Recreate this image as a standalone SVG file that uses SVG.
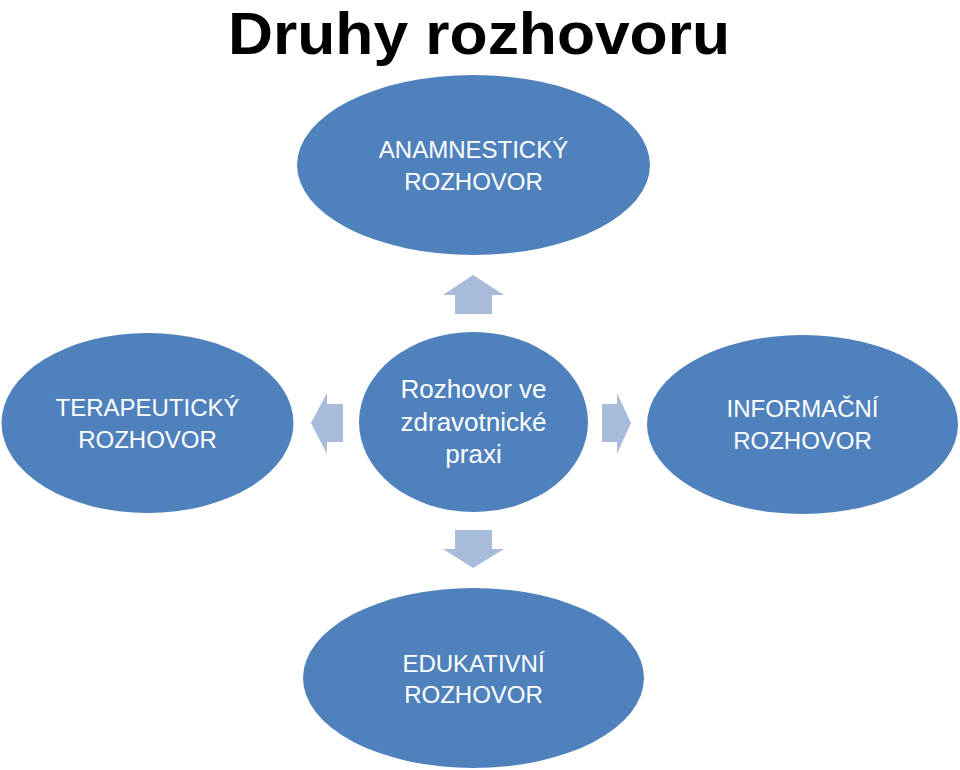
<svg xmlns="http://www.w3.org/2000/svg" width="960" height="770" viewBox="0 0 960 770">
<style>
.node{fill:#4F81BD;}
.lbl{fill:#FFFFFF;font-family:"Liberation Sans",Arial,sans-serif;font-size:24px;text-anchor:middle;}
.c{font-size:26px;}
.arr{fill:#A9BBDA;}
.title{fill:#000000;font-family:"Liberation Sans",Arial,sans-serif;font-size:59px;font-weight:bold;text-anchor:middle;}
</style>
<rect width="960" height="770" fill="#FFFFFF"/>
<text class="title" x="479" y="54" textLength="502" lengthAdjust="spacingAndGlyphs">Druhy rozhovoru</text>
<g id="connectors">
<polygon class="arr" points="473,275 504,295 492,295 492,314 455,314 455,295 443,295"/>
<polygon class="arr" points="473,568 504,549 492,549 492,530 455,530 455,549 443,549"/>
<polygon class="arr" points="311,423 327,393 327,404 343,404 343,442 327,442 327,454"/>
<polygon class="arr" points="631,423 617,393 617,404 602,404 602,442 617,442 617,454"/>
</g>
<g id="center">
<ellipse class="node" cx="473.5" cy="422" rx="114.5" ry="90"/>
<text class="lbl c" x="473.5" y="398">Rozhovor ve</text>
<text class="lbl c" x="473.5" y="431">zdravotnické</text>
<text class="lbl c" x="473.5" y="463">praxi</text>
</g>
<g id="anamnesticky">
<ellipse class="node" cx="473.5" cy="165" rx="176.5" ry="90"/>
<text class="lbl" x="473.5" y="158">ANAMNESTICKÝ</text>
<text class="lbl" x="473.5" y="190">ROZHOVOR</text>
</g>
<g id="terapeuticky">
<ellipse class="node" cx="147.5" cy="423" rx="146" ry="90"/>
<text class="lbl" x="147.5" y="416">TERAPEUTICKÝ</text>
<text class="lbl" x="147.5" y="448">ROZHOVOR</text>
</g>
<g id="informacni">
<ellipse class="node" cx="802.5" cy="424.5" rx="155.5" ry="89.5"/>
<text class="lbl" x="802.5" y="417">INFORMAČNÍ</text>
<text class="lbl" x="802.5" y="449">ROZHOVOR</text>
</g>
<g id="edukativni">
<ellipse class="node" cx="473.5" cy="678" rx="170.5" ry="90"/>
<text class="lbl" x="473.5" y="672">EDUKATIVNÍ</text>
<text class="lbl" x="473.5" y="703">ROZHOVOR</text>
</g>
</svg>
